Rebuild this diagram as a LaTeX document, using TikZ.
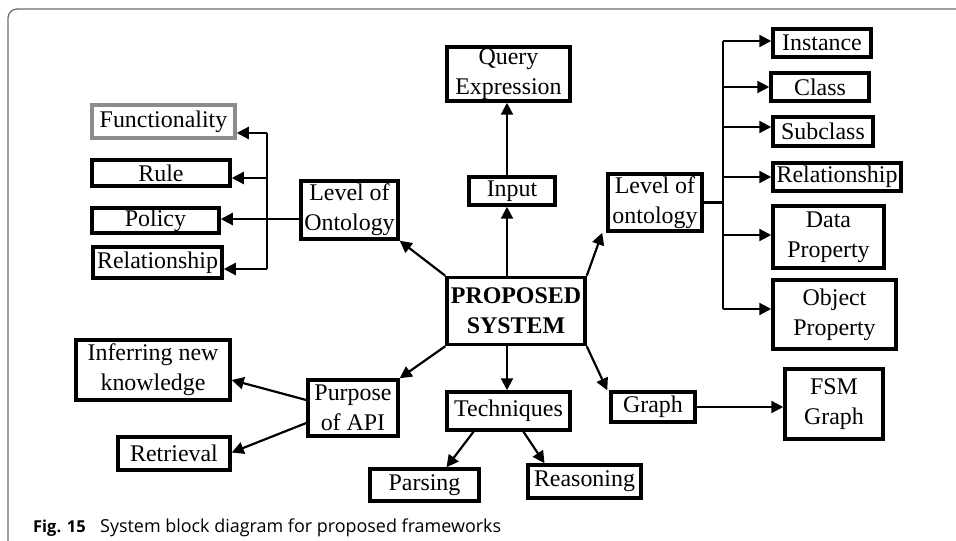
\documentclass[tikz,border=0pt]{standalone}
\usepackage{fontspec}
\setmainfont{Liberation Serif}
\newfontfamily\capfont{Open Sans}
\usetikzlibrary{arrows.meta}
\definecolor{framegray}{RGB}{110,110,110}
\definecolor{boxgray}{RGB}{140,140,140}
\begin{document}
\begin{tikzpicture}[x=1bp,y=-1bp,
  box/.style={draw=black,line width=3.5bp,inner sep=0pt,align=center,
    font=\fontsize{24}{30}\selectfont},
  line/.style={line width=2.2bp},
  arr/.style={line width=2.2bp,-{Triangle[length=12bp,width=12bp]}}]
\useasboundingbox (0,0) rectangle (956,541);
% outer frame
\draw[framegray,line width=1.3bp] (8,541) -- (8,18) arc[start angle=180,end angle=270,radius=9] -- (956,9);

% centre and first ring
\node[box,minimum width=138bp,minimum height=67bp,font=\fontsize{24}{30}\selectfont\bfseries] (prop) at (516,311) {PROPOSED\\SYSTEM};
\node[box,minimum width=123bp,minimum height=54bp] (query) at (508.5,74) {Query\\Expression};
\node[box,minimum width=86bp,minimum height=28bp] (input) at (512,191) {Input};
\node[box,minimum width=97bp,minimum height=58bp] (levelL) at (349.5,210) {Level of\\Ontology};
\node[box,minimum width=94bp,minimum height=57bp] (levelR) at (655,202.5) {Level of\\ontology};
\node[box,minimum width=90bp,minimum height=56bp] (purpose) at (353,408) {Purpose\\of API};
\node[box,minimum width=123bp,minimum height=38bp] (tech) at (508.5,411) {Techniques};
\node[box,minimum width=84bp,minimum height=30bp] (graph) at (653,407) {Graph};

% left branch of the ontology level
\node[box,draw=boxgray,minimum width=143bp,minimum height=33bp] (func) at (163.5,121.5) {Functionality};
\node[box,minimum width=138bp,minimum height=26bp] (rule) at (161,173) {Rule};
\node[box,minimum width=127bp,minimum height=25bp] (policy) at (155.5,220.5) {Policy};
\node[box,minimum width=129bp,minimum height=31bp] (relL) at (157.5,262.5) {Relationship};

% right branch of the ontology level
\node[box,minimum width=98bp,minimum height=28bp] (inst) at (822,43) {Instance};
\node[box,minimum width=98bp,minimum height=28bp] (class) at (820,87) {Class};
\node[box,minimum width=100bp,minimum height=29bp] (subc) at (823,131.5) {Subclass};
\node[box,minimum width=128bp,minimum height=28bp] (relR) at (837,177) {Relationship};
\node[box,minimum width=111bp,minimum height=62bp] (dprop) at (828.5,237) {Data\\Property};
\node[box,minimum width=123bp,minimum height=69bp] (oprop) at (834.5,314.5) {Object\\Property};

% lower leaves
\node[box,minimum width=154bp,minimum height=60bp] (infer) at (153,370) {Inferring new\\knowledge};
\node[box,minimum width=112bp,minimum height=33bp] (retr) at (174,453.5) {Retrieval};
\node[box,minimum width=109bp,minimum height=32bp] (pars) at (424.5,485) {Parsing};
\node[box,minimum width=113bp,minimum height=33bp] (reas) at (584.5,481.5) {Reasoning};
\node[box,minimum width=98bp,minimum height=70bp] (fsm) at (834,404) {FSM\\Graph};

% spines
\coordinate (spine) at (507,0);
\coordinate (busL) at (267,0);
\coordinate (busR) at (723,0);

% vertical spine through the centre
\draw[arr] (prop.north -| spine) -- (input.south -| spine);
\draw[arr] (input.north -| spine) -- (query.south -| spine);
\draw[arr] (prop.south -| spine) -- (tech.north -| spine);

% diagonal connectors from the centre
\draw[arr] (prop.north west) -- (levelL.south east);
\draw[arr] (prop.north east) -- ([xshift=-4bp]levelR.south west);
\draw[arr] (prop.south west) -- (purpose.north east);
\draw[arr] (prop.south east) -- ([xshift=-2bp]graph.north west);
\draw[arr] (graph.east) -- (graph.east -| fsm.west);

% techniques
\draw[arr] ([xshift=-35bp]tech.south) -- ([xshift=22bp]pars.north);
\draw[arr] ([xshift=15bp]tech.south) -- ([xshift=-40bp]reas.north);

% purpose of API
\draw[arr] ([yshift=8bp]purpose.west) -- ([yshift=-10bp]infer.east);
\draw[arr] ([yshift=-15bp]purpose.west) -- ([yshift=1bp]retr.east);

% left bus
\draw[line] ([yshift=-11.5bp]func.east -| busL) -- ([yshift=-6.5bp]relL.east -| busL);
\draw[arr] ([yshift=-9bp]levelL.west) -- ([yshift=-9bp]levelL.west -| policy.east);
\draw[arr] ([yshift=-11.5bp]func.east -| busL) -- ([yshift=-11.5bp]func.east);
\draw[arr] ([yshift=-5bp]rule.east -| busL) -- ([yshift=-5bp]rule.east);
\draw[arr] ([yshift=-6.5bp]relL.east -| busL) -- ([yshift=-6.5bp]relL.east);

% right bus
\draw[line] ([yshift=2bp]inst.west -| busR) -- ([yshift=5.5bp]oprop.west -| busR);
\draw[line] (levelR.east) -- (levelR.east -| busR);
\draw[arr] ([yshift=2bp]inst.west -| busR) -- ([yshift=2bp]inst.west);
\draw[arr] (class.west -| busR) -- (class.west);
\draw[arr] ([yshift=4.5bp]subc.west -| busR) -- ([yshift=4.5bp]subc.west);
\draw[arr] (relR.west -| busR) -- (relR.west);
\draw[arr] ([yshift=2bp]dprop.west -| busR) -- ([yshift=2bp]dprop.west);
\draw[arr] ([yshift=5.5bp]oprop.west -| busR) -- ([yshift=5.5bp]oprop.west);

% caption
\node[anchor=base west,inner sep=0pt,font=\capfont\fontsize{16.5}{18}\selectfont\bfseries] (figlabel) at (33,532) {Fig. 15};
\node[anchor=base west,inner sep=0pt,font=\capfont\fontsize{18}{20}\selectfont] (figtext) at (100,532) {System block diagram for proposed frameworks};
\end{tikzpicture}
\end{document}
